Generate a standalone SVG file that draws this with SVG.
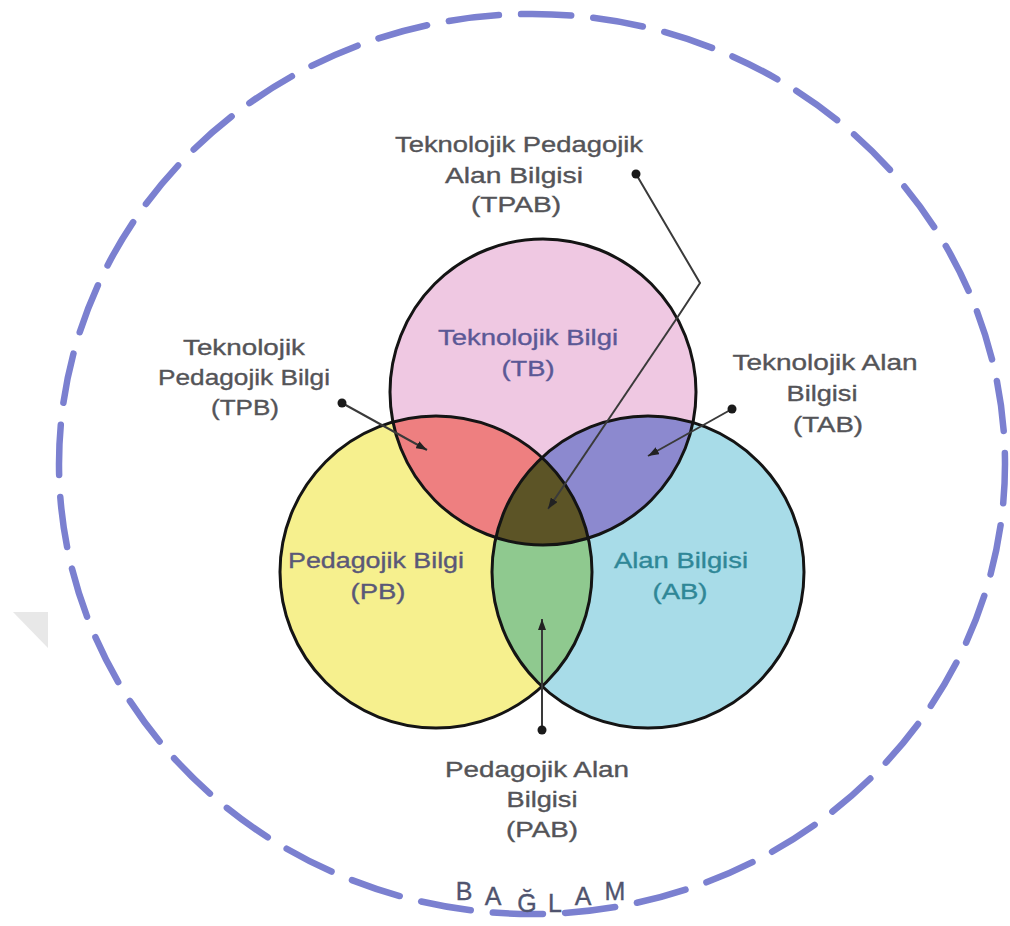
<svg xmlns="http://www.w3.org/2000/svg" width="1010" height="926" viewBox="0 0 1010 926">
<style>
  .lbl { font-family: "Liberation Sans", Arial, sans-serif; font-size: 22px; fill: #545458; stroke: #545458; stroke-width: 0.35; text-anchor: middle; }
  .tb { fill: #5b5896; stroke: #5b5896; }
  .pb { fill: #5a5878; stroke: #5a5878; }
  .ab { fill: #2f8797; stroke: #2f8797; }
  .ring { fill: none; stroke: #141414; stroke-width: 3; }
  .conn { fill: none; stroke: #3a3a3a; stroke-width: 2; }
  .dot { fill: #1a1a1a; }
  .ctx { font-family: "Liberation Sans", Arial, sans-serif; font-size: 25px; fill: #50546f; stroke: #50546f; stroke-width: 0.35; text-anchor: middle; }
</style>
<defs>
  <clipPath id="cTB"><circle cx="543" cy="392" r="153"/></clipPath>
  <clipPath id="cPB"><circle cx="436" cy="572" r="156"/></clipPath>
  <marker id="arr" markerWidth="11" markerHeight="8" refX="11" refY="4" orient="auto" markerUnits="userSpaceOnUse">
    <path d="M0,0 L11,4 L0,8 z" fill="#222"/>
  </marker>
</defs>
<rect width="1010" height="926" fill="#ffffff"/>
<polygon points="13,612 48,612 48,648" fill="#e8e8e8"/>

<g id="context">
  <ellipse cx="532" cy="464" rx="473" ry="450" fill="none" stroke="#7b80d0" stroke-width="6.5" stroke-linecap="round" pathLength="2880" stroke-dasharray="50 22" stroke-dashoffset="11"/>
  <text class="ctx" x="464 493 527 555 583 615" y="900 905 912 912 905 900">BAĞLAM</text>
</g>

<g id="node-TB">
  <circle cx="543" cy="392" r="153" fill="#efc8e2"/>
</g>
<g id="node-PB">
  <circle cx="436" cy="572" r="156" fill="#f6f08e"/>
</g>
<g id="node-AB">
  <circle cx="648" cy="572" r="156" fill="#a8dce8"/>
</g>
<g id="node-TPB">
  <circle cx="436" cy="572" r="156" fill="#ee7f80" clip-path="url(#cTB)"/>
</g>
<g id="node-TAB">
  <circle cx="648" cy="572" r="156" fill="#8c89cf" clip-path="url(#cTB)"/>
</g>
<g id="node-PAB">
  <circle cx="648" cy="572" r="156" fill="#8fc98f" clip-path="url(#cPB)"/>
</g>
<g id="node-TPAB">
  <g clip-path="url(#cTB)">
    <circle cx="648" cy="572" r="156" fill="#5c5426" clip-path="url(#cPB)"/>
  </g>
</g>
<g id="outlines">
  <circle class="ring" cx="543" cy="392" r="153"/>
  <circle class="ring" cx="436" cy="572" r="156"/>
  <circle class="ring" cx="648" cy="572" r="156"/>
</g>

<g id="circle-labels">
  <text class="lbl tb" x="528" y="345" textLength="180" lengthAdjust="spacingAndGlyphs">Teknolojik Bilgi</text>
  <text class="lbl tb" x="528" y="376" textLength="53" lengthAdjust="spacingAndGlyphs">(TB)</text>
  <text class="lbl pb" x="376" y="568" textLength="176" lengthAdjust="spacingAndGlyphs">Pedagojik Bilgi</text>
  <text class="lbl pb" x="378" y="599" textLength="55" lengthAdjust="spacingAndGlyphs">(PB)</text>
  <text class="lbl ab" x="681" y="568" textLength="134" lengthAdjust="spacingAndGlyphs">Alan Bilgisi</text>
  <text class="lbl ab" x="680" y="599" textLength="55" lengthAdjust="spacingAndGlyphs">(AB)</text>
</g>

<g id="connectors">
  <polyline class="conn" points="636,174 700,283 677,318" stroke="#444"/>
  <line class="conn" x1="677" y1="318" x2="548" y2="509" stroke="#2e2e88" marker-end="url(#arr)"/>
  <circle class="dot" cx="636" cy="174" r="4.5"/>
  <line class="conn" x1="342" y1="403" x2="427" y2="450" marker-end="url(#arr)"/>
  <circle class="dot" cx="342" cy="403" r="4.5"/>
  <line class="conn" x1="732" y1="409" x2="648" y2="456" marker-end="url(#arr)"/>
  <circle class="dot" cx="732" cy="409" r="4.5"/>
  <line class="conn" x1="542" y1="730" x2="542" y2="619" marker-end="url(#arr)"/>
  <circle class="dot" cx="542" cy="730" r="4.5"/>
</g>

<g id="label-TPAB">
  <text class="lbl" x="519" y="152" textLength="248" lengthAdjust="spacingAndGlyphs">Teknolojik Pedagojik</text>
  <text class="lbl" x="514" y="183" textLength="138" lengthAdjust="spacingAndGlyphs">Alan Bilgisi</text>
  <text class="lbl" x="516" y="212" textLength="90" lengthAdjust="spacingAndGlyphs">(TPAB)</text>
</g>
<g id="label-TPB">
  <text class="lbl" x="244" y="355" textLength="122" lengthAdjust="spacingAndGlyphs">Teknolojik</text>
  <text class="lbl" x="244" y="385" textLength="172" lengthAdjust="spacingAndGlyphs">Pedagojik Bilgi</text>
  <text class="lbl" x="245" y="415" textLength="68" lengthAdjust="spacingAndGlyphs">(TPB)</text>
</g>
<g id="label-TAB">
  <text class="lbl" x="825" y="370" textLength="185" lengthAdjust="spacingAndGlyphs">Teknolojik Alan</text>
  <text class="lbl" x="822" y="401" textLength="71" lengthAdjust="spacingAndGlyphs">Bilgisi</text>
  <text class="lbl" x="828" y="432" textLength="70" lengthAdjust="spacingAndGlyphs">(TAB)</text>
</g>
<g id="label-PAB">
  <text class="lbl" x="537" y="777" textLength="184" lengthAdjust="spacingAndGlyphs">Pedagojik Alan</text>
  <text class="lbl" x="542" y="807" textLength="71" lengthAdjust="spacingAndGlyphs">Bilgisi</text>
  <text class="lbl" x="542" y="837" textLength="72" lengthAdjust="spacingAndGlyphs">(PAB)</text>
</g>
</svg>
